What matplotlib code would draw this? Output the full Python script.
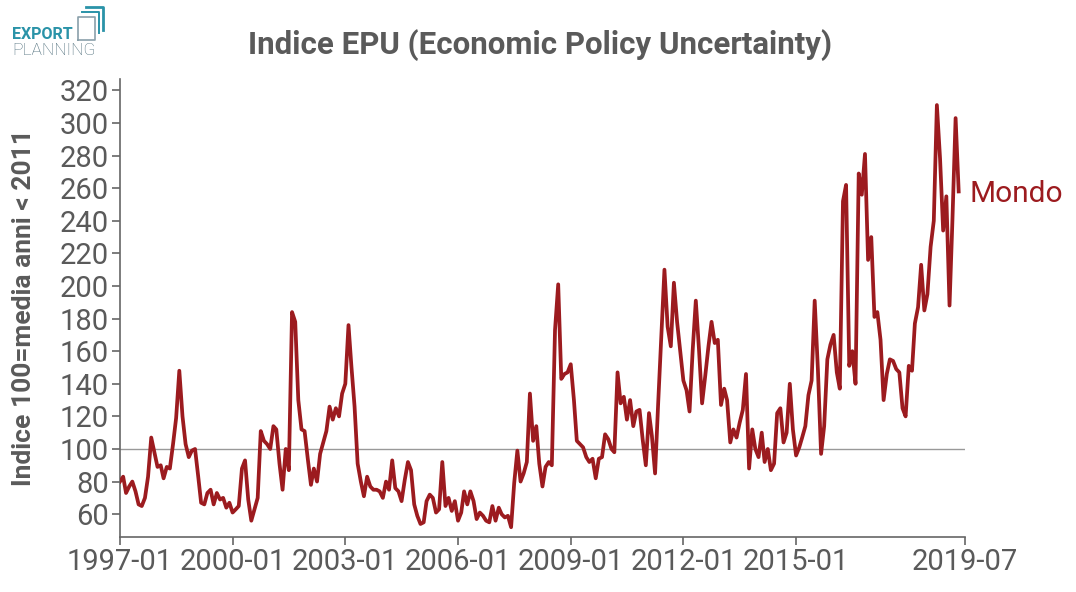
import pandas as pd
import matplotlib
matplotlib.use("Agg")
import matplotlib.pyplot as plt
from matplotlib.lines import Line2D

plt.rcParams['font.family'] = ['Roboto', 'DejaVu Sans']

# monthly EPU index (100 = mean of years before 2011), from 1997-01
epu = [80, 83, 73, 77, 80, 74, 66, 65, 70, 83,
       107, 98, 89, 90, 82, 89, 88, 103, 119, 148,
       120, 103, 95, 99, 100, 83, 67, 66, 73, 75,
       66, 73, 69, 70, 64, 67, 61, 63, 65, 88,
       93, 69, 56, 63, 70, 111, 105, 103, 100, 114,
       112, 91, 75, 100, 87, 184, 178, 130, 112, 111,
       94, 78, 88, 80, 97, 104, 111, 126, 118, 125,
       120, 134, 140, 176, 151, 126, 91, 80, 71, 83,
       77, 75, 75, 74, 70, 80, 75, 93, 76, 74,
       68, 81, 92, 87, 66, 59, 54, 55, 68, 72,
       70, 61, 63, 92, 65, 70, 62, 68, 56, 61,
       74, 66, 74, 68, 57, 61, 59, 56, 55, 65,
       56, 64, 60, 58, 59, 52, 79, 99, 80, 85,
       92, 134, 105, 114, 91, 77, 89, 92, 90, 173,
       201, 143, 146, 147, 152, 130, 105, 103, 101, 95,
       92, 94, 82, 94, 95, 109, 106, 100, 98, 147,
       128, 132, 118, 130, 114, 123, 124, 106, 90, 122,
       108, 85, 128, 170, 210, 175, 163, 202, 178, 160,
       142, 136, 123, 161, 191, 161, 128, 145, 163, 178,
       165, 167, 127, 137, 130, 104, 112, 107, 116, 124,
       146, 88, 112, 100, 95, 110, 92, 100, 87, 91,
       122, 125, 104, 110, 140, 112, 96, 101, 107, 114,
       133, 142, 191, 149, 97, 114, 155, 164, 170, 147,
       137, 252, 262, 151, 160, 140, 269, 256, 281, 216,
       230, 181, 184, 167, 130, 146, 155, 154, 149, 147,
       125, 120, 151, 148, 177, 187, 213, 185, 195, 224,
       240, 311, 278, 234, 255, 188, 240, 303, 258]

dates = pd.date_range('1997-01-01', periods=len(epu), freq='MS')

tick_dates = pd.to_datetime(['1997-01-01', '2000-01-01', '2003-01-01', '2006-01-01',
                             '2009-01-01', '2012-01-01', '2015-01-01', '2019-07-01'])
tick_labels = ['1997-01', '2000-01', '2003-01', '2006-01',
               '2009-01', '2012-01', '2015-01', '2019-07']
y_ticks = list(range(60, 321, 20))

red = '#9c1b1f'
grey = '#5a5a5a'

fig = plt.figure(figsize=(10.76, 5.92), dpi=100)
ax = fig.add_axes([0.1115, 0.0929, 0.7853, 0.7737])

ax.axhline(100, color='#999999', lw=1, zorder=1)
ax.plot(dates, epu, color=red, lw=2.7, zorder=3)
ax.annotate('Mondo', xy=(dates[-1], epu[-1]), xytext=(8, -2), textcoords='offset points',
            color=red, fontsize=21.5, va='center', ha='left', annotation_clip=False)

ax.set_xlim(pd.Timestamp('1997-01-01'), pd.Timestamp('2019-07-01'))
ax.set_ylim(46, 327)
ax.set_xticks(tick_dates)
ax.set_xticklabels(tick_labels)
ax.set_yticks(y_ticks)

for s in ['top', 'right']:
    ax.spines[s].set_visible(False)
for s in ['left', 'bottom']:
    ax.spines[s].set_color('#666666')
    ax.spines[s].set_linewidth(1.2)
ax.tick_params(axis='both', colors='#666666', labelcolor=grey, labelsize=21,
               length=6, width=1.2, pad=2)

ax.set_ylabel('Indice 100=media anni < 2011', fontsize=19, color=grey,
              fontweight='bold', labelpad=17)

fig.text(0.502, 0.924, 'Indice EPU (Economic Policy Uncertainty)', ha='center', va='center',
         fontsize=22.5, color=grey, fontweight='bold')

# logo
teal = '#2a93a8'
fig.text(0.011, 0.941, 'EXPORT', fontsize=11.5, fontweight='bold', color=teal, va='center')
fig.text(0.011, 0.914, 'PLANNING', fontsize=12.5, fontweight='light', color='#4f6f7c', va='center')
fig.add_artist(Line2D([0.0725, 0.0725, 0.0880, 0.0880, 0.0725],
                      [0.933, 0.972, 0.972, 0.933, 0.933],
                      transform=fig.transFigure, color='#8aa0aa', lw=1.2))
fig.add_artist(Line2D([0.0800, 0.0955, 0.0955], [0.988, 0.988, 0.950],
                      transform=fig.transFigure, color=teal, lw=2))
fig.add_artist(Line2D([0.0765, 0.0918, 0.0918], [0.980, 0.980, 0.945],
                      transform=fig.transFigure, color=teal, lw=1.4))

fig.savefig('out.png', dpi=100)
